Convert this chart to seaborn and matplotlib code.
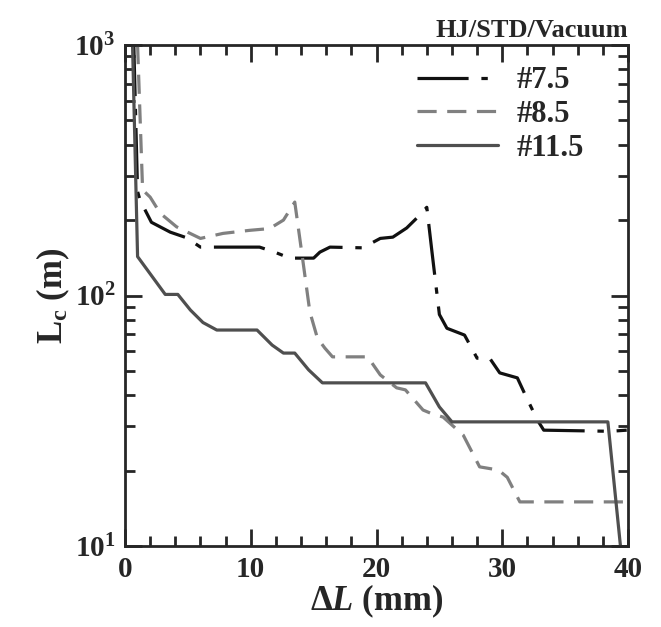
import numpy as np
import pandas as pd
import matplotlib
matplotlib.use("Agg")
import matplotlib.pyplot as plt
import matplotlib.ticker as mticker
import seaborn as sns

# --- data (x = delta L in mm, y = Lc in m) ---
x_75 = [0.7, 1.0, 1.2, 2.1, 3.6, 4.9, 6.0, 10.7, 11.9, 13.1, 15.0, 15.5, 16.3, 18.9,
        20.3, 21.3, 22.4, 23.3, 24.0, 24.4, 25.0, 25.6, 27.0, 28.0, 29.0, 29.8, 31.2,
        31.9, 32.8, 33.3, 38.6, 39.9]
y_75 = [1000, 260, 240, 196, 179, 170, 156, 156, 149, 141, 141, 149, 156, 155,
        169, 171, 186, 206, 225, 151, 84, 74, 69.5, 56.2, 56.2, 49.1, 46.9,
        39.4, 31.8, 29, 28.7, 29]

x_85 = [1.0, 1.4, 2.0, 2.8, 4.1, 6.0, 7.8, 9.9, 11.5, 12.6, 13.5, 14.1, 14.7, 15.3,
        15.9, 16.5, 19.3, 20.3, 21.6, 22.3, 23.7, 24.3, 25.3, 26.9, 28.2, 29.7, 30.4,
        31.4, 40.0]
y_85 = [1000, 264, 247, 213, 188, 169, 177, 182, 185, 200, 236, 143, 86, 67.6,
        61.6, 56.9, 56.9, 48.2, 42.8, 42, 34.9, 33.9, 32.7, 27.7, 20.7, 20.1, 18.8,
        15.0, 15.0]

x_115 = [0.6, 1.0, 3.2, 4.2, 5.2, 6.2, 7.3, 10.5, 11.7, 12.6, 13.5, 14.6, 15.7, 23.9,
         25.0, 26.0, 38.4, 39.4]
y_115 = [1000, 143, 101, 101, 87.5, 78, 72.8, 72.8, 63.4, 58.9, 58.9, 50.5, 44.8, 44.8,
         35.9, 31.3, 31.3, 10]

series_names = ["#7.5", "#8.5", "#11.5"]

df = pd.concat([
    pd.DataFrame({"dL": x_75, "Lc": y_75, "case": "#7.5"}),
    pd.DataFrame({"dL": x_85, "Lc": y_85, "case": "#8.5"}),
    pd.DataFrame({"dL": x_115, "Lc": y_115, "case": "#11.5"}),
], ignore_index=True)

# --- style ---
sns.set_style("ticks")
plt.rcParams.update({
    "font.family": ["Liberation Serif", "DejaVu Serif"],
    "font.weight": "bold",
    "mathtext.fontset": "custom",
    "mathtext.rm": "Liberation Serif:bold",
    "mathtext.it": "Liberation Serif:italic:bold",
    "mathtext.bf": "Liberation Serif:bold",
    "axes.linewidth": 2.0,
})

palette = {"#7.5": "#111111", "#8.5": "#808080", "#11.5": "#4f4f4f"}
dashes = {"#7.5": (16, 4, 2, 4), "#8.5": (6, 3.3), "#11.5": ""}

fig = plt.figure(figsize=(6.61, 6.27), dpi=100)
ax = fig.add_axes([125 / 661, 1 - 546 / 627, (628 - 125) / 661, (546 - 45) / 627])

sns.lineplot(data=df, x="dL", y="Lc", hue="case", style="case",
             hue_order=series_names, style_order=series_names,
             palette=palette, dashes=dashes, sort=False, estimator=None,
             linewidth=2.3, ax=ax)

ax.set_yscale("log")
ax.set_xlim(0, 40)
ax.set_ylim(10, 1000)
ax.xaxis.set_major_locator(mticker.MultipleLocator(10))
ax.xaxis.set_minor_locator(mticker.MultipleLocator(2))
ax.yaxis.set_major_locator(mticker.LogLocator(base=10))
ax.yaxis.set_minor_locator(mticker.LogLocator(base=10, subs=np.arange(2, 10)))
ax.yaxis.set_minor_formatter(mticker.NullFormatter())
ax.yaxis.set_major_formatter(mticker.LogFormatterMathtext())

ax.tick_params(which="both", direction="in", top=True, right=True, width=2)
ax.tick_params(which="major", length=12, labelsize=21, pad=7)
ax.tick_params(which="minor", length=7)

ax.set_xlabel(r"$\Delta L$ (mm)", fontsize=25, fontweight="bold", labelpad=0)
ax.set_ylabel(r"$\mathrm{L_c}$ (m)", fontsize=25, fontweight="bold", labelpad=2)

ax.text(1.0, 1.005, "HJ/STD/Vacuum", transform=ax.transAxes, ha="right", va="bottom",
        fontsize=19, fontweight="bold")

leg = ax.legend(loc="upper right", frameon=False, fontsize=22, handlelength=2.65,
                handletextpad=0.6, labelspacing=0.15, borderaxespad=0.3,
                bbox_to_anchor=(0.955, 1.0))
for line in leg.get_lines():
    line.set_linewidth(2.3)

fig.savefig("out.png", dpi=100)
